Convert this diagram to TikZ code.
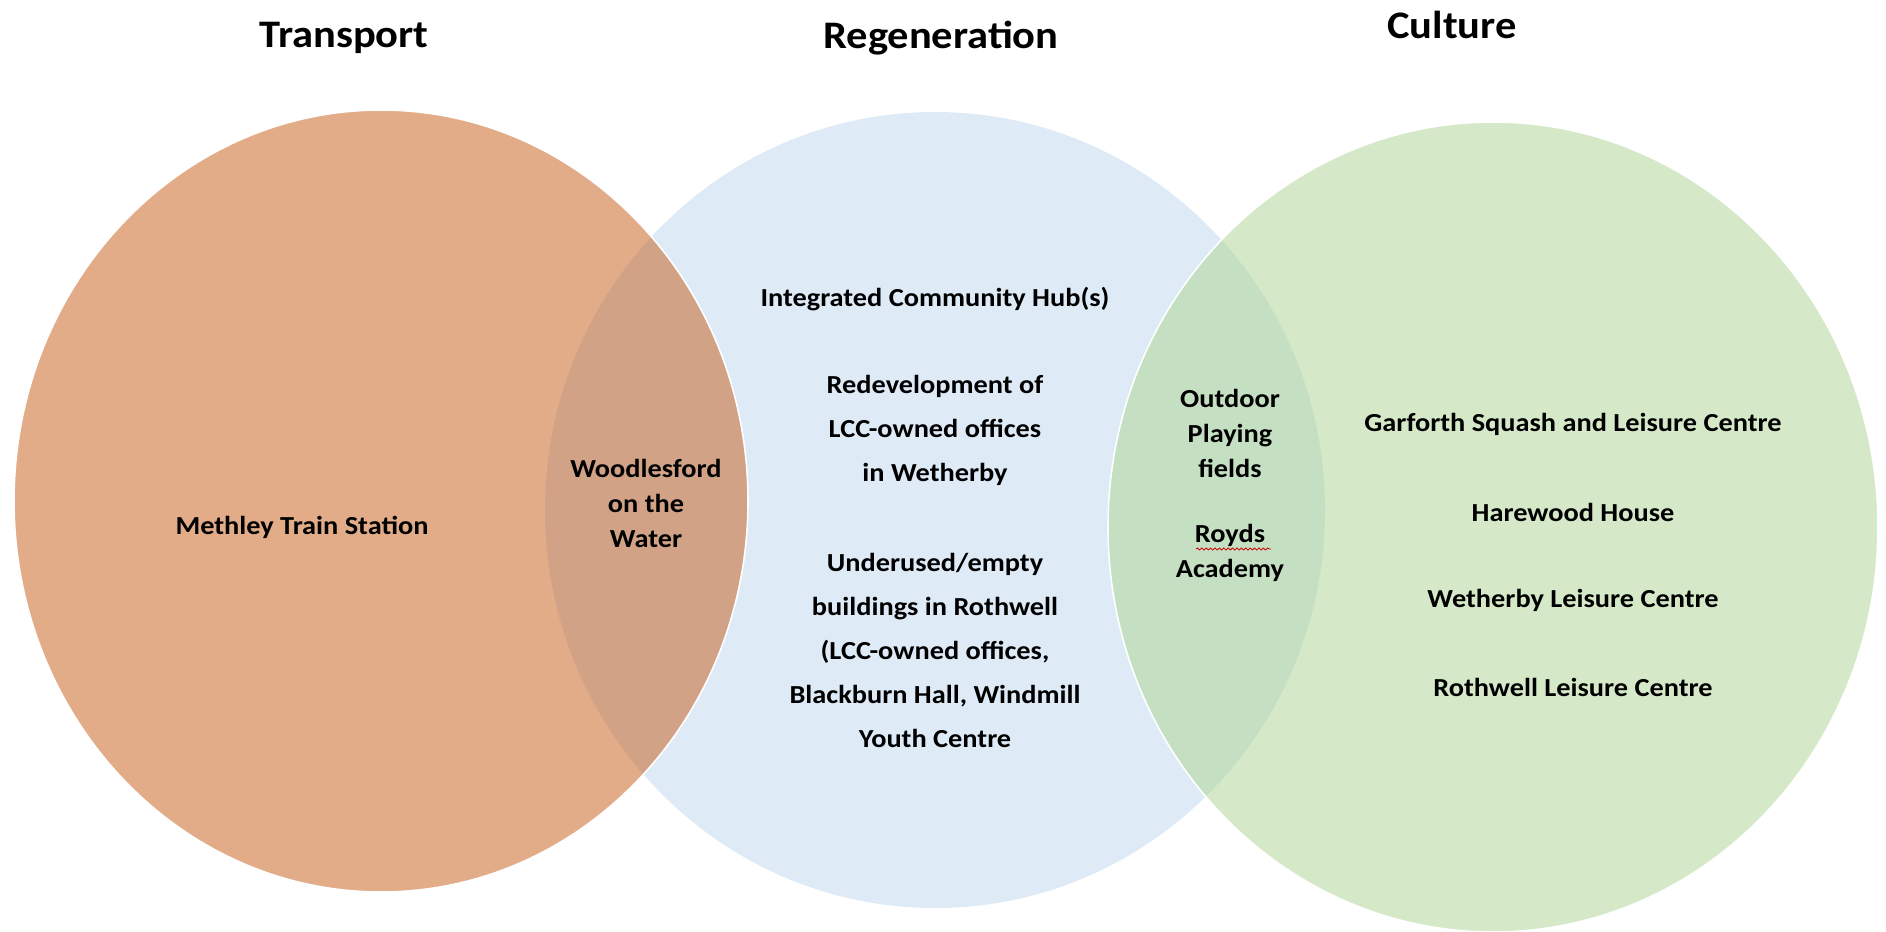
\documentclass[tikz,border=0pt]{standalone}
\usepackage{fontspec}
\setmainfont{Carlito}[FakeStretch=1.09]
\usetikzlibrary{decorations.pathmorphing}
\definecolor{orangeF}{HTML}{E2AC89}
\definecolor{ovOB}{HTML}{D2A286}
\definecolor{blueF}{HTML}{DEEAF6}
\definecolor{greenF}{HTML}{D5E8C8}
\definecolor{ovGB}{HTML}{C4DFC2}
\begin{document}
\begin{tikzpicture}[x=0.5pt,y=-0.5pt,
  lbl/.style={font=\bfseries\fontsize{13}{15}\selectfont, align=center, inner sep=0pt, text=black},
  wide/.style={lbl, font=\bfseries\fontsize{13}{22}\selectfont},
  mid/.style={lbl, font=\bfseries\fontsize{13}{17.5}\selectfont},
  ttl/.style={font=\bfseries\fontsize{19.5}{22}\selectfont, inner sep=0pt, text=black}]
\useasboundingbox (0,0) rectangle (1886,932);
% circles
\fill[blueF] (935,510) ellipse [x radius=390, y radius=398];
\fill[orangeF] (381,501) ellipse [x radius=367, y radius=391];
\begin{scope}
  \clip (935,510) ellipse [x radius=390, y radius=398];
  \fill[ovOB] (381,501) ellipse [x radius=367, y radius=391];
\end{scope}
\draw[white, line width=0.8pt] (381,501) ellipse [x radius=367, y radius=391];
\fill[greenF] (1493,527) ellipse [x radius=385, y radius=405];
\begin{scope}
  \clip (935,510) ellipse [x radius=390, y radius=398];
  \fill[ovGB] (1493,527) ellipse [x radius=385, y radius=405];
\end{scope}
\draw[white, line width=0.8pt] (1493,527) ellipse [x radius=385, y radius=405];
% titles
\node[ttl] (tTransport) at (344,38) {Transport};
\node[ttl] (tRegen) at (941,38) {Regeneration};
\node[ttl] (tCulture) at (1452,25) {Culture};
% labels
\node[lbl] (methley) at (302,527) {Methley Train Station};
\node[mid] (woodles) at (646,503) {Woodlesford\\on the\\Water};
\node[lbl] (hub) at (935,299) {Integrated Community Hub(s)};
\node[wide] (redev) at (935,430) {Redevelopment of\\LCC-owned offices\\in Wetherby};
\node[wide] (under) at (935,650) {Underused/empty\\buildings in Rothwell\\(LCC-owned offices,\\Blackburn Hall, Windmill\\Youth Centre};
\node[mid] (outdoor) at (1230,433) {Outdoor\\Playing\\fields};
\node[mid] (royds) at (1230,553) {Royds\\Academy};
\draw[red!80!black, line width=0.4pt, decorate, decoration={snake, amplitude=0.5pt, segment length=2.2pt}] (1196,549) -- (1271,549);
\node[lbl] (garforth) at (1573,424) {Garforth Squash and Leisure Centre};
\node[lbl] (harewood) at (1573,512) {Harewood House};
\node[lbl] (wetherby) at (1573,600) {Wetherby Leisure Centre};
\node[lbl] (rothwell) at (1573,687) {Rothwell Leisure Centre};
\end{tikzpicture}
\end{document}
